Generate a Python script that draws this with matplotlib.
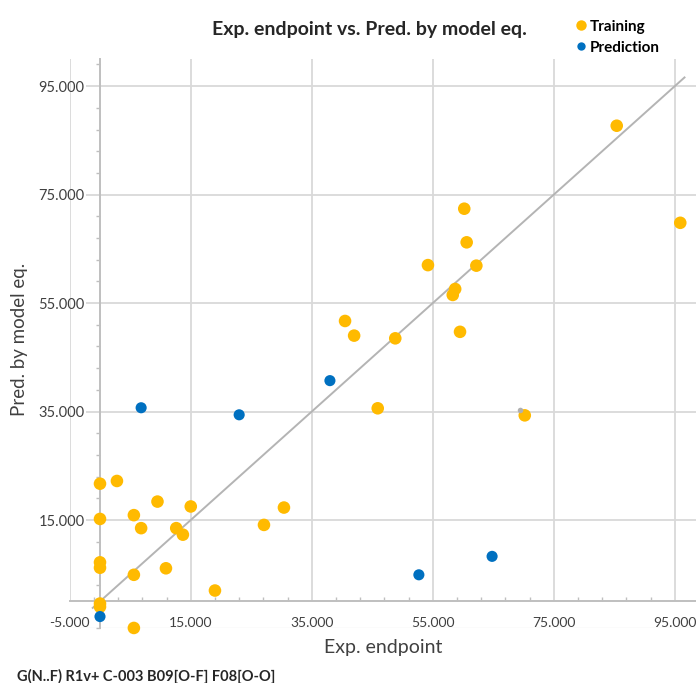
import numpy as np
import matplotlib
matplotlib.use("Agg")
import matplotlib.pyplot as plt
from matplotlib.ticker import FixedLocator, FixedFormatter
from matplotlib.lines import Line2D

# training set: experimental vs predicted
train_x = [0.0, 2.8, 9.5, 5.6, 15.0, 0.0, 6.8, 12.6, 13.7, 27.1, 30.4, 0.0, 0.0, 5.6,
           10.9, 19.0, 0.0, 0.0, 5.6, 40.5, 42.0, 48.8, 45.9, 60.2, 60.6, 54.2, 62.2,
           58.7, 58.3, 59.5, 95.9, 70.2, 85.4]
train_y = [21.7, 22.2, 18.4, 15.9, 17.5, 15.2, 13.5, 13.5, 12.3, 14.1, 17.3, 7.2, 6.2, 4.9,
           6.1, 2.0, -0.4, -1.0, -4.9, 51.7, 49.0, 48.5, 35.6, 72.4, 66.2, 62.0, 61.9,
           57.6, 56.5, 49.7, 69.8, 34.3, 87.7]

# prediction set
pred_x = [6.8, 23.0, 38.0, 0.0, 64.8, 52.7]
pred_y = [35.7, 34.4, 40.7, -2.8, 8.3, 4.9]

# small grey (selected) point
sel_x = [69.5]
sel_y = [35.2]

major_x = [-5, 15, 35, 55, 75, 95]
major_y = [15, 35, 55, 75, 95]
diag = [-1.2, 96.6]

plt.rcParams['font.family'] = ['Lato', 'DejaVu Sans']

fig = plt.figure(figsize=(6.96, 6.83), dpi=100)
ax = fig.add_axes([0.1002, 0.0798, 0.8998, 0.8338])
ax.set_xlim(-5, 98.5)
ax.set_ylim(-5, 100)

grid_c = '#d9d9d9'
axis_c = '#bfbfbf'
txt_c = '#404040'

# grid lines
ax.vlines(major_x, 0, 100, color=grid_c, lw=1.3, zorder=0)
ax.hlines(major_y, 0, 98.5, color=grid_c, lw=1.3, zorder=0)
ax.axhline(-5, color='#ececec', lw=1.0, zorder=0)

for s in ['top', 'right']:
    ax.spines[s].set_visible(False)
ax.spines['left'].set_position(('data', 0))
ax.spines['bottom'].set_position(('data', 0))
for s in ['left', 'bottom']:
    ax.spines[s].set_color(axis_c)
    ax.spines[s].set_linewidth(1.4)

ax.xaxis.set_major_locator(FixedLocator(major_x))
ax.xaxis.set_major_formatter(FixedFormatter([f"{v:.3f}" for v in major_x]))
ax.xaxis.set_minor_locator(FixedLocator(np.arange(-5, 99, 4)))
ax.yaxis.set_major_locator(FixedLocator(major_y))
ax.yaxis.set_major_formatter(FixedFormatter([f"{v:.3f}" for v in major_y]))
ax.yaxis.set_minor_locator(FixedLocator(np.arange(-5, 101, 4)))

ax.tick_params(axis='x', which='major', length=0, pad=11, labelsize=10, labelcolor=txt_c)
ax.tick_params(axis='x', which='minor', direction='in', length=3, width=1, color=axis_c)
ax.tick_params(axis='y', which='major', direction='out', length=10, width=1.3, color=grid_c,
               pad=1, labelsize=10.5, labelcolor=txt_c)
ax.tick_params(axis='y', which='minor', direction='out', length=3, width=1, color=axis_c)

ax.plot(diag, diag, color='#b4b4b4', lw=1.4, zorder=2)

ax.scatter(train_x, train_y, s=82, color='#FFBA00', edgecolors='none', zorder=3, clip_on=False)
ax.scatter(pred_x, pred_y, s=64, color='#0070C0', edgecolors='none', zorder=4, clip_on=False)
ax.scatter(sel_x, sel_y, s=16, color='#b0b0b0', edgecolors='none', zorder=3)

fig.text(369/696, 1 - 30/683, 'Exp. endpoint vs. Pred. by model eq.', ha='center', va='center',
         fontsize=14, fontweight='bold', color='#262626')
fig.text(383/696, 1 - 647/683, 'Exp. endpoint', ha='center', va='center', fontsize=14, color=txt_c)
fig.text(20/696, 1 - 339/683, 'Pred. by model eq.', ha='center', va='center', rotation=90,
         fontsize=13.5, color=txt_c)
fig.text(17/696, 1 - 676/683, 'G(N..F) R1v+ C-003 B09[O-F] F08[O-O]', ha='left', va='center',
         fontsize=10.5, fontweight='bold', color='#262626')

handles = [Line2D([], [], ls='none', marker='o', ms=7.5, color='#FFBA00', mec='none'),
           Line2D([], [], ls='none', marker='o', ms=6, color='#0070C0', mec='none')]
fig.legend(handles, ['Training', 'Prediction'], loc='upper left',
           bbox_to_anchor=(560/696, 1 - 6/683), frameon=False, handletextpad=0.05,
           handlelength=1.0, labelspacing=0.45, prop={'weight': 'bold', 'size': 11})

fig.savefig('out.png', dpi=100)
